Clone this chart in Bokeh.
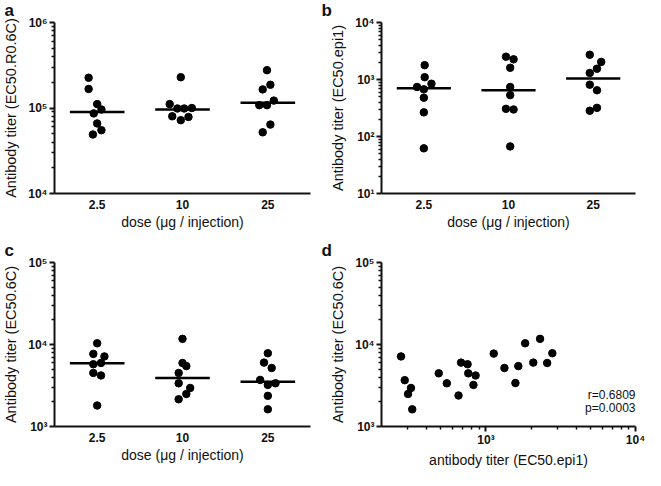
from bokeh.plotting import figure
from bokeh.layouts import gridplot
from bokeh.models import Range1d, FixedTicker, Label
from bokeh.embed import file_html
from bokeh.resources import INLINE

# ---------------- data ----------------
doses = ["2.5", "10", "25"]
group = [0] * 8 + [1] * 8 + [2] * 8

# panel a : EC50.R0.6C
a_values = [226000, 167000, 111000, 96000, 86500, 66000, 55000, 49000,
            229000, 111000, 98700, 98700, 100000, 80000, 78600, 72000,
            277000, 187000, 165000, 122000, 108000, 108000, 64000, 52000]
a_offset = [-0.10, -0.10, 0.0, 0.05, -0.04, 0.0, 0.05, -0.05,
            -0.02, -0.15, -0.06, 0.02, 0.11, -0.12, 0.07, -0.02,
            -0.01, 0.03, -0.06, 0.07, -0.10, -0.01, 0.03, -0.06]
a_median = [90000, 96000, 115000]

# panel b : EC50.epi1
b_values = [1783, 1096, 843, 739, 674, 479, 265, 62,
            2512, 2259, 1606, 739, 532, 306, 298, 67,
            2718, 2035, 1545, 1301, 811, 647, 318, 283]
b_offset = [0.01, 0.01, 0.09, -0.08, 0.0, 0.0, 0.0, 0.0,
            -0.03, 0.06, 0.02, 0.02, 0.02, -0.03, 0.06, 0.02,
            -0.04, 0.095, 0.045, -0.04, -0.04, 0.045, 0.045, -0.04]
b_median = [701, 647, 1040]

# panel c : EC50.6C
c_values = [10350, 7685, 7154, 5748, 5951, 4500, 4190, 1803,
            11717, 5951, 5454, 4500, 3365, 2951, 2493, 2150,
            7826, 6012, 5176, 3701, 3218, 3365, 2365, 1622]
c_offset = [0.0, -0.045, 0.085, -0.045, 0.045, -0.045, 0.045, 0.0,
            0.0, 0.0, 0.045, -0.045, -0.045, 0.09, 0.045, -0.045,
            0.0, -0.045, 0.045, -0.09, 0.0, 0.09, 0.0, 0.0]
c_median = [5900, 3900, 3510]

# panel d : correlation EC50.epi1 vs EC50.6C
d_x = [270, 286, 301, 315, 321, 483, 547, 655, 681, 753, 761, 824, 852,
       1127, 1328, 1573, 1645, 1827, 2071, 2300, 2565, 2777]
d_y = [7153, 3673, 2490, 2951, 1620, 4449, 3365, 2388, 6012, 5745, 4449,
       3217, 4188, 7745, 5176, 3389, 5452, 10350, 6012, 11720, 5944, 7825]
d_stats = ["r=0.6809", "p=0.0003"]

SUP = {1: "\u00b9", 2: "\u00b2", 3: "\u00b3", 4: "\u2074", 5: "\u2075", 6: "\u2076"}

FONT = "Liberation Sans"
INK = "#111111"


def decade_ticks(lo, hi):
    major = [10 ** e for e in range(lo, hi + 1)]
    minor = [m * 10 ** e for e in range(lo, hi) for m in range(2, 10)]
    labels = {10 ** e: "10" + SUP[e] for e in range(lo, hi + 1)}
    return major, minor, labels


def base_fig(w, h, left, right, top, bottom, xr, yr, letter, x_log=False):
    p = figure(width=w, height=h, output_backend="svg", toolbar_location=None,
               y_axis_type="log", x_axis_type="log" if x_log else "linear",
               x_range=xr, y_range=yr,
               min_border_left=left, min_border_right=right,
               min_border_top=top, min_border_bottom=bottom)
    p.outline_line_color = None
    p.xgrid.visible = False
    p.ygrid.visible = False
    p.background_fill_color = "white"
    p.title.text = letter
    p.title.align = "left"
    p.title.vertical_align = "top"
    p.title.offset = 1 - left
    p.title.standoff = 1
    p.title.text_font = FONT
    p.title.text_font_size = "17px"
    p.title.text_font_style = "bold"
    p.title.text_color = INK
    for ax in (p.xaxis[0], p.yaxis[0]):
        ax.axis_line_width = 2
        ax.axis_line_color = INK
        ax.major_tick_line_color = INK
        ax.minor_tick_line_color = INK
        ax.major_tick_line_width = 2
        ax.minor_tick_line_width = 1.5
        ax.major_tick_in = 0
        ax.minor_tick_in = 0
        ax.major_tick_out = 5
        ax.minor_tick_out = 3
        ax.axis_label_text_font = FONT
        ax.axis_label_text_font_style = "normal"
        ax.axis_label_text_color = INK
        ax.major_label_text_font = FONT
        ax.major_label_text_font_size = "12px"
        ax.major_label_text_font_style = "bold"
        ax.major_label_text_color = INK
    p.xaxis.axis_label_text_font_size = "14px"
    p.yaxis.axis_label_text_font_size = "14.5px"
    p.yaxis.major_label_standoff = 2
    p.yaxis.axis_label_standoff = 6
    return p


def dose_panel(w, h, left, right, top, bottom, values, offset, median, lo, hi, ylabel, letter):
    p = base_fig(w, h, left, right, top, bottom, Range1d(-0.5, 2.5),
                 Range1d(10 ** lo, 10 ** hi), letter)
    major, minor, labels = decade_ticks(lo, hi)
    p.yaxis.ticker = FixedTicker(ticks=major, minor_ticks=minor)
    p.yaxis.major_label_overrides = labels
    p.xaxis.ticker = FixedTicker(ticks=list(range(len(doses))))
    p.xaxis.major_label_overrides = {i: d for i, d in enumerate(doses)}
    p.xaxis.major_tick_line_color = None
    p.xaxis.major_tick_out = 0
    p.xaxis.major_label_standoff = 6
    p.xaxis.axis_label_standoff = 2
    p.xaxis.axis_label = "dose (\u03bcg / injection)"
    p.yaxis.axis_label = ylabel
    xs = [g + o for g, o in zip(group, offset)]
    p.scatter(xs, values, size=7.5, color="black")
    idx = list(range(len(median)))
    p.segment(x0=[i - 0.32 for i in idx], x1=[i + 0.32 for i in idx],
              y0=median, y1=median, line_width=2.5, color="black")
    return p


W_L, W_R = 320, 325
H1, H2 = 232, 238

pa = dose_panel(W_L, H1, 51, 10, 20, 38, a_values, a_offset, a_median, 4, 6,
                "Antibody titer (EC50.R0.6C)", "a")
pb = dose_panel(W_R, H1, 61, 10, 20, 38, b_values, b_offset, b_median, 1, 4,
                "Antibody titer (EC50.epi1)", "b")
pc = dose_panel(W_L, H2, 51, 10, 30, 38, c_values, c_offset, c_median, 3, 5,
                "Antibody titer (EC50.6C)", "c")

# panel d
pd_ = base_fig(W_R, H2, 61, 10, 30, 38, Range1d(200, 10000), Range1d(1000, 100000), "d",
               x_log=True)
ymaj, ymin, ylab = decade_ticks(3, 5)
pd_.yaxis.ticker = FixedTicker(ticks=ymaj, minor_ticks=ymin)
pd_.yaxis.major_label_overrides = ylab
xmaj, xmin_, xlab = decade_ticks(3, 4)
xmin_ = [m * 100 for m in range(3, 10)] + xmin_
pd_.xaxis.ticker = FixedTicker(ticks=xmaj, minor_ticks=xmin_)
pd_.xaxis.major_label_overrides = xlab
pd_.xaxis.major_label_standoff = 1
pd_.xaxis.axis_label_standoff = 2
pd_.xaxis.axis_label = "antibody titer (EC50.epi1)"
pd_.yaxis.axis_label = "Antibody titer (EC50.6C)"
pd_.scatter(d_x, d_y, size=7.5, color="black")
fw = W_R - 61 - 10
for i, s in enumerate(d_stats):
    pd_.add_layout(Label(x=fw, y=32 - 13.5 * i, x_units="screen", y_units="screen",
                         text=s, text_font=FONT, text_font_size="12px",
                         text_color=INK, text_align="right", text_baseline="middle"))

grid = gridplot([[pa, pb], [pc, pd_]], toolbar_location=None)

open("out.html", "w").write(file_html(grid, INLINE))
